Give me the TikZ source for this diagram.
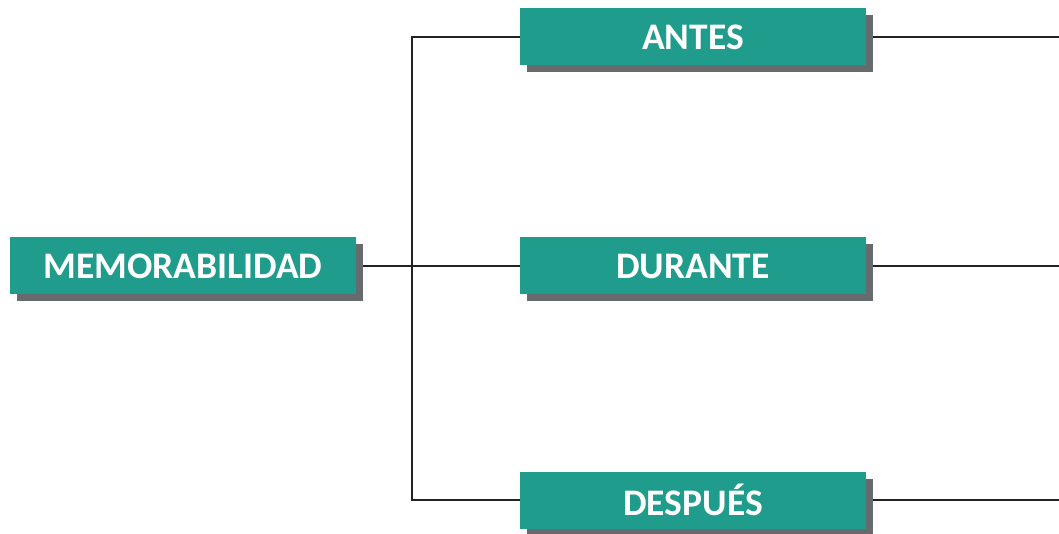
\documentclass[tikz,border=0pt]{standalone}
\usepackage{fontspec}
\setmainfont{Carlito}
\usetikzlibrary{positioning,shadows,backgrounds,calc}
\definecolor{boxteal}{HTML}{1F9C8C}
\definecolor{boxshade}{HTML}{686B6D}
\definecolor{linedark}{HTML}{222222}

\tikzset{
  stage/.style={rectangle, fill=boxteal, text=white, font=\bfseries\fontsize{37.5}{42}\selectfont,
    minimum width=346pt, minimum height=57pt, inner sep=0pt,
    drop shadow={shadow xshift=7pt, shadow yshift=-7pt, fill=boxshade, opacity=1}},
  link/.style={draw=linedark, line width=2.5pt}
}

\begin{document}
\begin{tikzpicture}[x=1pt, y=1pt]
  \useasboundingbox (0,0) rectangle (1059,533);

  \node[stage] (mem) at (183,267) {MEMORABILIDAD};
  \node[stage] (antes) at (693,496) {ANTES};
  \node[stage] (durante) at (693,267) {DURANTE};
  \node[stage] (despues) at (693,33) {DESPUÉS};

  \coordinate (split) at (412,267);
  \coordinate (antesend) at (1059,496);
  \coordinate (duranteend) at (1059,267);
  \coordinate (despuesend) at (1059,33);

  \begin{pgfonlayer}{background}
    \draw[link] (mem.east) -- (durante.west);
    \draw[link] (antes.west) -| (split) |- (despues.west);
    \draw[link] (antes.east) -- (antesend);
    \draw[link] (durante.east) -- (duranteend);
    \draw[link] (despues.east) -- (despuesend);
  \end{pgfonlayer}
\end{tikzpicture}
\end{document}
